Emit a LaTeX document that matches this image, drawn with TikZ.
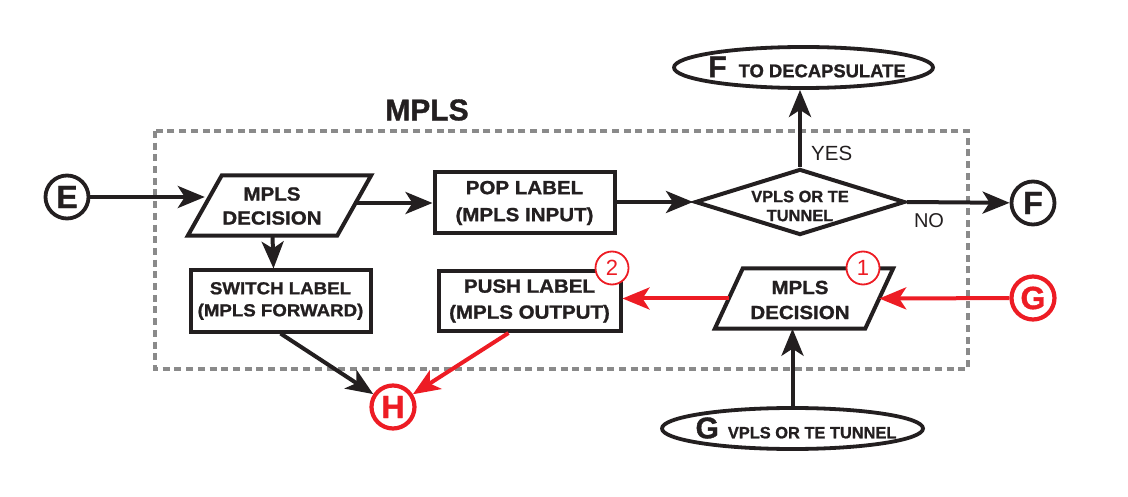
\documentclass[tikz,border=0pt]{standalone}
\usepackage{fontspec}
\setmainfont{Liberation Sans}[BoldFeatures={FakeBold=1.2}]
\newfontfamily\widesans{Liberation Sans}[FakeStretch=1.08, BoldFeatures={FakeBold=1.2}]
\usetikzlibrary{arrows.meta,shapes.geometric,calc}
\definecolor{ink}{HTML}{231F20}
\definecolor{rd}{HTML}{ED1C24}
\definecolor{dgray}{HTML}{8A8A8A}
\newcommand{\fsz}[2]{\fontsize{#1}{#2}\selectfont}
\tikzset{
  boxnode/.style={rectangle, draw=ink, line width=4pt, inner sep=0pt, align=center},
  boxtext/.style={font=\widesans\bfseries\fsz{19}{26}, align=center, inner sep=0pt, text=ink},
  ghost/.style={rectangle, draw=none, inner sep=0pt},
  pgram/.style={draw=ink, line width=4pt},
  flow/.style={draw=ink, line width=4pt, -{Stealth[length=27pt,width=22pt,inset=7pt]}},
  redflow/.style={flow, draw=rd, color=rd},
  letcirc/.style={circle, draw=ink, line width=3.8pt, minimum size=43pt, inner sep=0pt, text=ink, font=\bfseries\fsz{32}{32}},
  redcirc/.style={letcirc, draw=rd, text=rd, line width=4.2pt},
  numcirc/.style={circle, draw=rd, line width=1.8pt, fill=white, minimum size=33pt, inner sep=0pt, text=rd, font=\fsz{22}{22}},
  ovalnode/.style={ellipse, draw=ink, line width=3.8pt, inner sep=0pt},
  group/.style={draw=dgray, line width=3.5pt, dash pattern=on 7pt off 4.7pt},
  plain/.style={inner sep=0pt, text=ink}
}
\begin{document}
\begin{tikzpicture}[x=1pt,y=-1pt]
\useasboundingbox (0,0) rectangle (1128,497);

% group frame
\draw[group] (155,131) rectangle (968,369);
\node[plain, font=\bfseries\fsz{30}{30}] (title) at (427,110) {MPLS};

% connectors' end nodes
\node[letcirc] (E) at (67,197) {E};
\node[letcirc] (F) at (1033,203) {F};
\node[redcirc] (G) at (1033,298) {G};
\node[redcirc] (H) at (393,407) {H};

% left decision (parallelogram)
\node[ghost, minimum width=149pt, minimum height=60pt] (dec1) at (279.5,205.5) {};
\draw[pgram] ([xshift=17pt]dec1.north west) -- ([xshift=17pt]dec1.north east)
  -- ([xshift=-17pt]dec1.south east) -- ([xshift=-17pt]dec1.south west) -- cycle;
\node[boxtext, font=\widesans\bfseries\fsz{19}{24}] (dec1t) at (272,206) {MPLS\\DECISION};

% boxes
\node[boxnode, minimum width=180pt, minimum height=61pt] (pop) at (524.5,203) {};
\node[boxtext, font=\widesans\bfseries\fsz{19}{27}] (popt) at (pop) {POP LABEL\\(MPLS INPUT)};
\node[boxnode, minimum width=180pt, minimum height=61pt] (sw) at (280.5,301) {};
\node[boxtext, font=\widesans\bfseries\fsz{17.3}{22}] (swt) at (sw) {SWITCH LABEL\\(MPLS FORWARD)};
\node[boxnode, minimum width=182pt, minimum height=60pt] (push) at (529.5,301) {};
\node[boxtext, font=\widesans\bfseries\fsz{19}{26}] (pusht) at (push) {PUSH LABEL\\(MPLS OUTPUT)};

% diamond
\node[diamond, draw=ink, line width=4pt, inner sep=0pt, minimum width=210pt, minimum height=66pt] (dia) at (800,202) {};
\node[plain, font=\bfseries\fsz{16.4}{19}, align=center] (diat) at (800,206) {VPLS OR TE\\TUNNEL};

% right decision (parallelogram)
\node[ghost, minimum width=150pt, minimum height=60pt] (dec2) at (804,298.5) {};
\draw[pgram] ([xshift=14pt]dec2.north west) -- ([xshift=14pt]dec2.north east)
  -- ([xshift=-14pt]dec2.south east) -- ([xshift=-14pt]dec2.south west) -- cycle;
\node[boxtext, font=\widesans\bfseries\fsz{19}{25}] (dec2t) at (800,300) {MPLS\\DECISION};

% ellipses
\node[ovalnode, minimum width=259pt, minimum height=41pt] (ell1) at (803.5,67.5) {};
\node[plain] (ell1t) at (807,67) {\bfseries\fsz{30}{30}F\hspace{12pt}\fsz{18.4}{20}TO DECAPSULATE};
\node[ovalnode, minimum width=261pt, minimum height=41pt] (ell2) at (792.5,428.5) {};
\node[plain] (ell2t) at (796,428) {\bfseries\fsz{30}{30}G\hspace{9pt}\fsz{16.4}{20}VPLS OR TE TUNNEL};

% number badges
\node[numcirc] (n1) at (863,268) {1};
\node[numcirc] (n2) at (612,268) {2};

% labels
\node[plain, anchor=west, font=\fsz{20.5}{20.5}] (yes) at (811,153) {YES};
\node[plain, font=\fsz{20}{20}] (no) at (929,221) {NO};

% black connectors
\draw[flow] (E) -- (E -| dec1.west);
\draw[flow] (pop.west -| dec1.east) -- (pop.west);
\draw[flow] ([xshift=-7pt]dec1.south) -- ([xshift=-7pt]sw.north);
\draw[flow] (pop.east |- dia.west) -- (dia.west);
\draw[flow] (dia.north) -- (dia.north |- ell1.south);
\draw[flow] (dia.east) -- (F);
\draw[flow] (sw.south) -- (H);
\draw[flow] (ell2.north) -- (ell2.north |- dec2.south);

% red connectors
\draw[redflow] (G) -- (dec2.east);
\draw[redflow] (dec2.west) -- (dec2.west -| push.east);
\draw[redflow] ([xshift=-21pt]push.south) -- (H);
\end{tikzpicture}
\end{document}
